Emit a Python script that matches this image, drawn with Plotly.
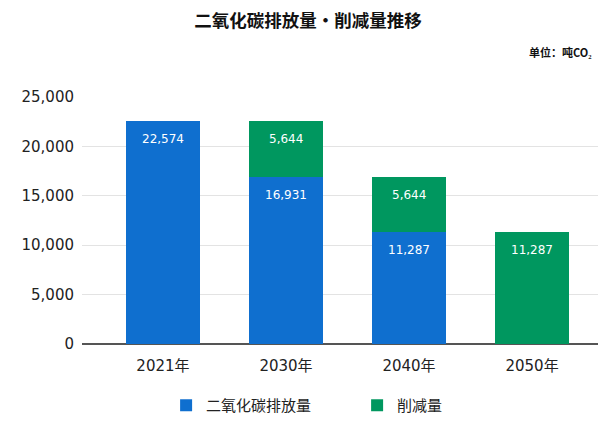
import plotly.graph_objects as go

categories = ["2021年", "2030年", "2040年", "2050年"]
emission = [22574, 16931, 11287, 0]
reduction = [0, 5644, 5644, 11287]
series_names = ["二氧化碳排放量", "削减量"]
y_ticks = [0, 5000, 10000, 15000, 20000, 25000]
title_text = "二氧化碳排放量・削减量推移"
unit_text = "单位：吨CO₂"

BLUE = "#0F6FCF"
GREEN = "#00975F"
FONT = "DejaVu Sans, Noto Sans CJK SC"
CJK = "Noto Sans CJK SC"

fig = go.Figure()
fig.add_trace(go.Bar(x=categories, y=emission, name=series_names[0],
                     marker=dict(color=BLUE, line=dict(width=0)), width=0.6))
fig.add_trace(go.Bar(x=categories, y=reduction, name=series_names[1],
                     marker=dict(color=GREEN, line=dict(width=0)), width=0.6))

annotations = []
for i, c in enumerate(categories):
    if emission[i] > 0:
        annotations.append(dict(x=c, y=emission[i], text=f"{emission[i]:,}", showarrow=False,
                                yanchor="top", yshift=-9, font=dict(color="white", size=12, family=FONT)))
    if reduction[i] > 0:
        annotations.append(dict(x=c, y=emission[i] + reduction[i], text=f"{reduction[i]:,}", showarrow=False,
                                yanchor="top", yshift=-9, font=dict(color="white", size=12, family=FONT)))

annotations.append(dict(xref="paper", yref="paper", x=0.9923, y=1.0, yshift=45, xanchor="right", yanchor="middle",
                        text=f"<b>{unit_text}</b>", showarrow=False, font=dict(size=11, color="#111", family=CJK)))

fig.update_layout(
    barmode="stack",
    width=616, height=424,
    margin=dict(l=74, r=26, t=89, b=88, autoexpand=False),
    paper_bgcolor="white", plot_bgcolor="white",
    font=dict(family=FONT, color="#222"),
    title=dict(text=f"<b>{title_text}</b>", x=0.487, xanchor="center", y=0.97, yanchor="middle",
               font=dict(size=17.5, color="#111", family=CJK)),
    xaxis=dict(range=[-0.658, 3.536], showgrid=False, tickfont=dict(size=15, color="#222"),
               showline=False, ticks="", ticklabelstandoff=11),
    yaxis=dict(range=[0, 25000], tickvals=y_ticks, tickformat=",", showgrid=True, gridcolor="#e3e3e3",
               gridwidth=1, zeroline=True, zerolinecolor="#555", zerolinewidth=2,
               tickfont=dict(size=15, color="#222"), ticklabelstandoff=7, showline=False, ticks=""),
    legend=dict(orientation="h", x=0.163, xanchor="left", y=-0.249, yanchor="middle",
                font=dict(size=15, color="#222", family=CJK), entrywidth=146, itemwidth=30,
                traceorder="normal"),
    annotations=annotations,
    bargap=0.4,
)

fig.write_html("out.html")
